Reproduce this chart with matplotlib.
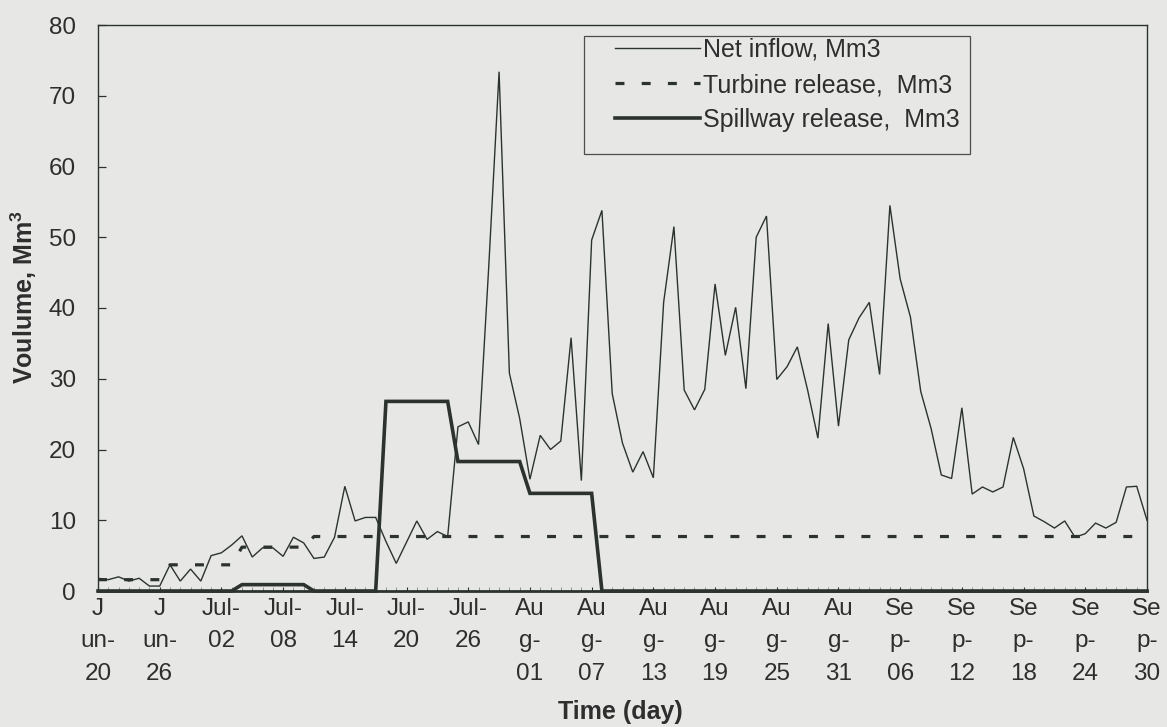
import matplotlib
matplotlib.use("Agg")
import matplotlib.pyplot as plt
import numpy as np
from matplotlib.legend_handler import HandlerLine2D
from matplotlib.patches import Rectangle

plt.rcParams["font.family"] = ["Liberation Sans", "DejaVu Sans"]
plt.rcParams["mathtext.fontset"] = "custom"
plt.rcParams["mathtext.rm"] = "Liberation Sans"
plt.rcParams["mathtext.bf"] = "Liberation Sans:bold"

# Daily volumes from Jun-20 (day 0) to Sep-30 (day 102), Mm3
net_inflow = [
    1.8, 1.6, 2.0, 1.4, 1.8, 0.7, 0.7, 3.7, 1.4, 3.1,
    1.4, 5.0, 5.4, 6.5, 7.8, 4.8, 6.1, 6.1, 4.9, 7.6,
    6.8, 4.6, 4.8, 7.6, 14.8, 9.9, 10.4, 10.4, 7.0, 3.9,
    6.9, 9.9, 7.3, 8.4, 7.7, 23.2, 23.9, 20.7, 46.0, 73.4,
    30.8, 24.4, 15.8, 22.0, 20.0, 21.2, 35.8, 15.6, 49.6, 53.8,
    27.9, 20.9, 16.8, 19.7, 16.0, 40.8, 51.5, 28.4, 25.6, 28.5,
    43.4, 33.3, 40.1, 28.6, 50.0, 53.0, 29.9, 31.7, 34.5, 28.4,
    21.6, 37.8, 23.3, 35.5, 38.6, 40.8, 30.6, 54.5, 44.1, 38.7,
    28.2, 23.0, 16.4, 15.9, 25.9, 13.7, 14.7, 14.0, 14.7, 21.7,
    17.3, 10.6, 9.8, 8.9, 9.9, 7.6, 8.1, 9.6, 8.9, 9.7,
    14.7, 14.8, 10.0,
]

turbine_release = [
    1.6, 1.6, 1.6, 1.6, 1.6, 1.6, 1.6,
    3.7, 3.7, 3.7, 3.7, 3.7, 3.7, 3.7,
    6.2, 6.2, 6.2, 6.2, 6.2, 6.2, 6.2,
    7.7, 7.7, 7.7, 7.7, 7.7, 7.7, 7.7,
    7.7, 7.7, 7.7, 7.7, 7.7, 7.7, 7.7,
    7.7, 7.7, 7.7, 7.7, 7.7, 7.7, 7.7,
    7.7, 7.7, 7.7, 7.7, 7.7, 7.7, 7.7,
    7.7, 7.7, 7.7, 7.7, 7.7, 7.7, 7.7,
    7.7, 7.7, 7.7, 7.7, 7.7, 7.7, 7.7,
    7.7, 7.7, 7.7, 7.7, 7.7, 7.7, 7.7,
    7.7, 7.7, 7.7, 7.7, 7.7, 7.7, 7.7,
    7.7, 7.7, 7.7, 7.7, 7.7, 7.7, 7.7,
    7.7, 7.7, 7.7, 7.7, 7.7, 7.7, 7.7,
    7.7, 7.7, 7.7, 7.7, 7.7, 7.7, 7.7,
    7.7, 7.7, 7.7, 7.7, 7.7,
]

spillway_release = [
    0.0, 0.0, 0.0, 0.0, 0.0, 0.0, 0.0,
    0.0, 0.0, 0.0, 0.0, 0.0, 0.0, 0.0,
    0.9, 0.9, 0.9, 0.9, 0.9, 0.9, 0.9,
    0.0, 0.0, 0.0, 0.0, 0.0, 0.0, 0.0,
    26.8, 26.8, 26.8, 26.8, 26.8, 26.8, 26.8,
    18.3, 18.3, 18.3, 18.3, 18.3, 18.3, 18.3,
    13.8, 13.8, 13.8, 13.8, 13.8, 13.8, 13.8,
    0.0, 0.0, 0.0, 0.0, 0.0, 0.0, 0.0,
    0.0, 0.0, 0.0, 0.0, 0.0, 0.0, 0.0,
    0.0, 0.0, 0.0, 0.0, 0.0, 0.0, 0.0,
    0.0, 0.0, 0.0, 0.0, 0.0, 0.0, 0.0,
    0.0, 0.0, 0.0, 0.0, 0.0, 0.0, 0.0,
    0.0, 0.0, 0.0, 0.0, 0.0, 0.0, 0.0,
    0.0, 0.0, 0.0, 0.0, 0.0, 0.0, 0.0,
    0.0, 0.0, 0.0, 0.0, 0.0,
]

tick_days = [0, 6, 12, 18, 24, 30, 36, 42, 48, 54, 60, 66, 72, 78, 84, 90, 96, 102]
tick_labels = [
    "J\nun-\n20", "J\nun-\n26", "Jul-\n02", "Jul-\n08", "Jul-\n14", "Jul-\n20",
    "Jul-\n26", "Au\ng-\n01", "Au\ng-\n07", "Au\ng-\n13", "Au\ng-\n19",
    "Au\ng-\n25", "Au\ng-\n31", "Se\np-\n06", "Se\np-\n12", "Se\np-\n18",
    "Se\np-\n24", "Se\np-\n30",
]

BG = "#e7e8e6"
INK = "#2c332e"
TEXT = "#2e2e2e"

W, H = 1167, 727
fig = plt.figure(figsize=(W / 100, H / 100), dpi=100, facecolor=BG)
ax = fig.add_axes([98 / W, 1 - 591 / H, 1049 / W, 566 / H], facecolor=BG)

days = np.arange(len(net_inflow))

ax.plot(days, net_inflow, color=INK, lw=1.0, solid_joinstyle="miter",
        label="Net inflow, Mm3", zorder=3)
ax.plot(days, turbine_release, color=INK, lw=2.3, linestyle=(0, (2.8, 5.4)),
        dash_capstyle="butt", label="Turbine release,  Mm3", zorder=3)
ax.plot(days, spillway_release, color=INK, lw=2.6, solid_joinstyle="miter",
        label="Spillway release,  Mm3", zorder=4, clip_on=False)

ax.set_xlim(0, 102)
ax.set_ylim(0, 80)
ax.set_yticks(np.arange(0, 81, 10))
ax.set_xticks(tick_days)
ax.set_xticklabels(tick_labels, linespacing=1.62)
ax.set_xticks(days, minor=True)

ax.tick_params(axis="y", direction="in", length=6, width=0.9, colors=INK,
               labelcolor=TEXT, labelsize=17.5, pad=16)
ax.tick_params(axis="x", which="major", direction="in", length=3, width=0.8,
               colors=INK, labelcolor=TEXT, labelsize=17.5, pad=5)
ax.tick_params(axis="x", which="minor", direction="in", length=3, width=0.6,
               colors="#7d827e")

for side in ["top", "right", "left"]:
    ax.spines[side].set_color(INK)
    ax.spines[side].set_linewidth(1.0)
ax.spines["bottom"].set_color(INK)
ax.spines["bottom"].set_linewidth(2.0)

fig.text(24 / W, 1 - 297 / H, r"Voulume, Mm$^\mathbf{3}$", rotation=90,
         ha="center", va="center", fontsize=18, fontweight="bold", color=TEXT)
fig.text(620 / W, 1 - 712 / H, "Time (day)", ha="center", va="center",
         fontsize=18, fontweight="bold", color=TEXT)


class LeadLineHandler(HandlerLine2D):
    """Line handle drawn on the right part of the handle box."""

    def __init__(self, lead=0.27, **kw):
        super().__init__(**kw)
        self.lead = lead

    def get_xdata(self, legend, xdescent, ydescent, width, height, fontsize):
        x0 = -xdescent + self.lead * width
        x1 = -xdescent + width
        return np.array([x0, x1]), np.array([0.5 * (x0 + x1)])


# legend box outline (figure pixels: left, top, right, bottom)
box_l, box_t, box_r, box_b = 584, 36, 970, 154
fig.patches.append(Rectangle((box_l / W, 1 - box_b / H), (box_r - box_l) / W,
                             (box_b - box_t) / H, transform=fig.transFigure,
                             facecolor=BG, edgecolor="#4a4f4b", lw=0.9,
                             zorder=5))

handles, labels = ax.get_legend_handles_labels()
leg = fig.legend(
    handles, labels,
    loc="upper left",
    bbox_to_anchor=(box_l / W, 1 - (box_t + 2) / H),
    bbox_transform=fig.transFigure,
    borderaxespad=0,
    fontsize=18,
    frameon=False,
    handlelength=4.64,
    handletextpad=0.12,
    labelspacing=0.44,
    borderpad=0.0,
    handler_map={h: LeadLineHandler() for h in handles},
)
leg.set_zorder(6)
for t in leg.get_texts():
    t.set_color(TEXT)

fig.savefig("out.png", dpi=100, facecolor=BG)
